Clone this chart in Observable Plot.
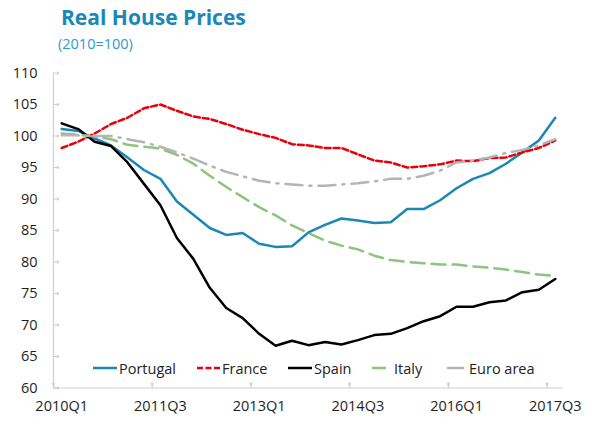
<!DOCTYPE html>
<html>
<head>
<meta charset="utf-8">
<script src="https://cdn.jsdelivr.net/npm/d3@7"></script>
<script src="https://cdn.jsdelivr.net/npm/@observablehq/plot@0.6"></script>
<style>
  body { margin: 0; background: #fff; font-family: "Open Sans", sans-serif; }
  #wrap { position: relative; width: 596px; height: 421px; overflow: hidden; }
  #title { position: absolute; left: 61px; top: 3px; font-size: 21px; font-weight: 700; color: #1a87b9; white-space: nowrap; }
  #subtitle { position: absolute; left: 58px; top: 34px; font-size: 14.5px; color: #2a9ad0; white-space: nowrap; }
  #chart { position: absolute; left: 0; top: 60px; }
  #legend { position: absolute; left: 0; top: 358px; width: 596px; height: 20px; font-size: 14.5px; color: #222; }
  .item { position: absolute; top: 0; display: flex; align-items: center; height: 20px; white-space: nowrap; }
  .item svg { margin-right: 2px; }
</style>
</head>
<body>
<div id="wrap">
  <div id="title">Real House Prices</div>
  <div id="subtitle">(2010=100)</div>
  <div id="chart"></div>
  <div id="legend"></div>
</div>
<script>
const quarters = ["2010Q1","2010Q2","2010Q3","2010Q4","2011Q1","2011Q2","2011Q3","2011Q4",
  "2012Q1","2012Q2","2012Q3","2012Q4","2013Q1","2013Q2","2013Q3","2013Q4",
  "2014Q1","2014Q2","2014Q3","2014Q4","2015Q1","2015Q2","2015Q3","2015Q4",
  "2016Q1","2016Q2","2016Q3","2016Q4","2017Q1","2017Q2","2017Q3"];
const xTickLabels = ["2010Q1","2011Q3","2013Q1","2014Q3","2016Q1","2017Q3"];
const yTicks = [60,65,70,75,80,85,90,95,100,105,110];

const portugal = [101.1,100.8,99.6,98.5,96.6,94.6,93.2,89.6,87.5,85.4,84.3,84.6,82.9,82.4,82.5,84.7,
  85.9,86.9,86.6,86.2,86.3,88.4,88.4,89.8,91.7,93.2,94.1,95.6,97.4,99.3,102.9];
const france = [98.1,99.1,100.4,101.9,102.9,104.4,105.0,104.0,103.1,102.7,101.9,101.0,100.3,99.7,98.7,98.5,
  98.1,98.1,97.1,96.1,95.8,95.0,95.2,95.5,96.1,96.0,96.5,96.6,97.4,98.1,99.3];
const spain = [102.0,101.1,99.1,98.4,95.8,92.4,89.0,83.8,80.5,75.9,72.7,71.1,68.6,66.7,67.5,66.8,
  67.3,66.9,67.6,68.4,68.6,69.5,70.6,71.4,72.9,72.9,73.6,73.9,75.2,75.6,77.3];
const italy = [100.4,100.2,99.9,99.5,98.6,98.3,98.0,97.0,95.6,93.7,91.9,90.3,88.7,87.4,85.8,84.6,
  83.4,82.6,82.0,81.0,80.3,80.0,79.8,79.6,79.6,79.3,79.1,78.8,78.4,78.0,77.8];
const euroArea = [100.1,100.1,100.0,100.0,99.5,99.0,98.3,97.4,96.4,95.3,94.3,93.6,92.9,92.5,92.3,92.1,
  92.1,92.3,92.5,92.8,93.2,93.2,93.7,94.5,95.8,96.1,96.6,97.3,97.8,98.5,99.5];

const seriesNames = ["Portugal","France","Spain","Italy","Euro area"];
const seriesValues = [portugal, france, spain, italy, euroArea];
const seriesColors = ["#1a87b5","#e8000b","#000000","#8cc47c","#b4b4b4"];
const seriesDash = [null, "6,3", null, "14,7", "17,7,2,7"];

const rows = [];
seriesNames.forEach((name, s) => {
  seriesValues[s].forEach((v, i) => rows.push({series: name, q: quarters[i], t: i + 0.5, value: v}));
});

const tickIdx = xTickLabels.map(l => quarters.indexOf(l));
const labelText = "#1e1e1e";

const marks = [
  Plot.ruleX([0], {stroke: "#cfcfcf", strokeWidth: 1.2}),
  Plot.ruleY([60], {stroke: "#cfcfcf", strokeWidth: 1.2}),
  Plot.vector(tickIdx, {x: d => d, y: 60, length: 5, anchor: "start", stroke: "#cfcfcf", strokeWidth: 1.2}),
  Plot.vector(yTicks, {x: 0, y: d => d, length: 5, rotate: 90, anchor: "start", stroke: "#cfcfcf", strokeWidth: 1.2}),
  Plot.axisY({ticks: yTicks, tickSize: 0, tickPadding: 16, fontSize: 14.5, color: labelText, label: null}),
  Plot.axisX({ticks: tickIdx.map(i => i + 0.5), tickFormat: d => quarters[Math.round(d - 0.5)], tickSize: 0, tickPadding: 13, fontSize: 14.5, color: labelText, label: null})
];
seriesNames.forEach((name, s) => {
  marks.push(Plot.line(rows.filter(r => r.series === name), {
    x: "t", y: "value", stroke: seriesColors[s], strokeWidth: 2.5,
    strokeDasharray: seriesDash[s] || undefined, strokeLinejoin: "round"
  }));
});

const chart = Plot.plot({
  width: 596,
  height: 361,
  marginTop: 12.5,
  marginBottom: 33.5,
  marginLeft: 53,
  marginRight: 33,
  style: {fontFamily: "'Open Sans', sans-serif", background: "#fff", overflow: "visible"},
  x: {type: "linear", domain: [0, quarters.length]},
  y: {domain: [60, 110]},
  marks
});
document.getElementById("chart").appendChild(chart);

// Legend
const legendPos = [93, 197, 288, 372, 447];
const legendLen = [24, 23, 24, 20, 20];
const legend = document.getElementById("legend");
seriesNames.forEach((name, s) => {
  const div = document.createElement("div");
  div.className = "item";
  div.style.left = legendPos[s] + "px";
  const w = legendLen[s];
  const dash = seriesDash[s] ? `stroke-dasharray="${s === 1 ? "6,2.5" : seriesDash[s]}"` : "";
  div.innerHTML = `<svg width="${w}" height="10"><line x1="0" y1="5" x2="${w}" y2="5" stroke="${seriesColors[s]}" stroke-width="2.5" ${dash}/></svg><span>${name}</span>`;
  legend.appendChild(div);
});
</script>
</body>
</html>
